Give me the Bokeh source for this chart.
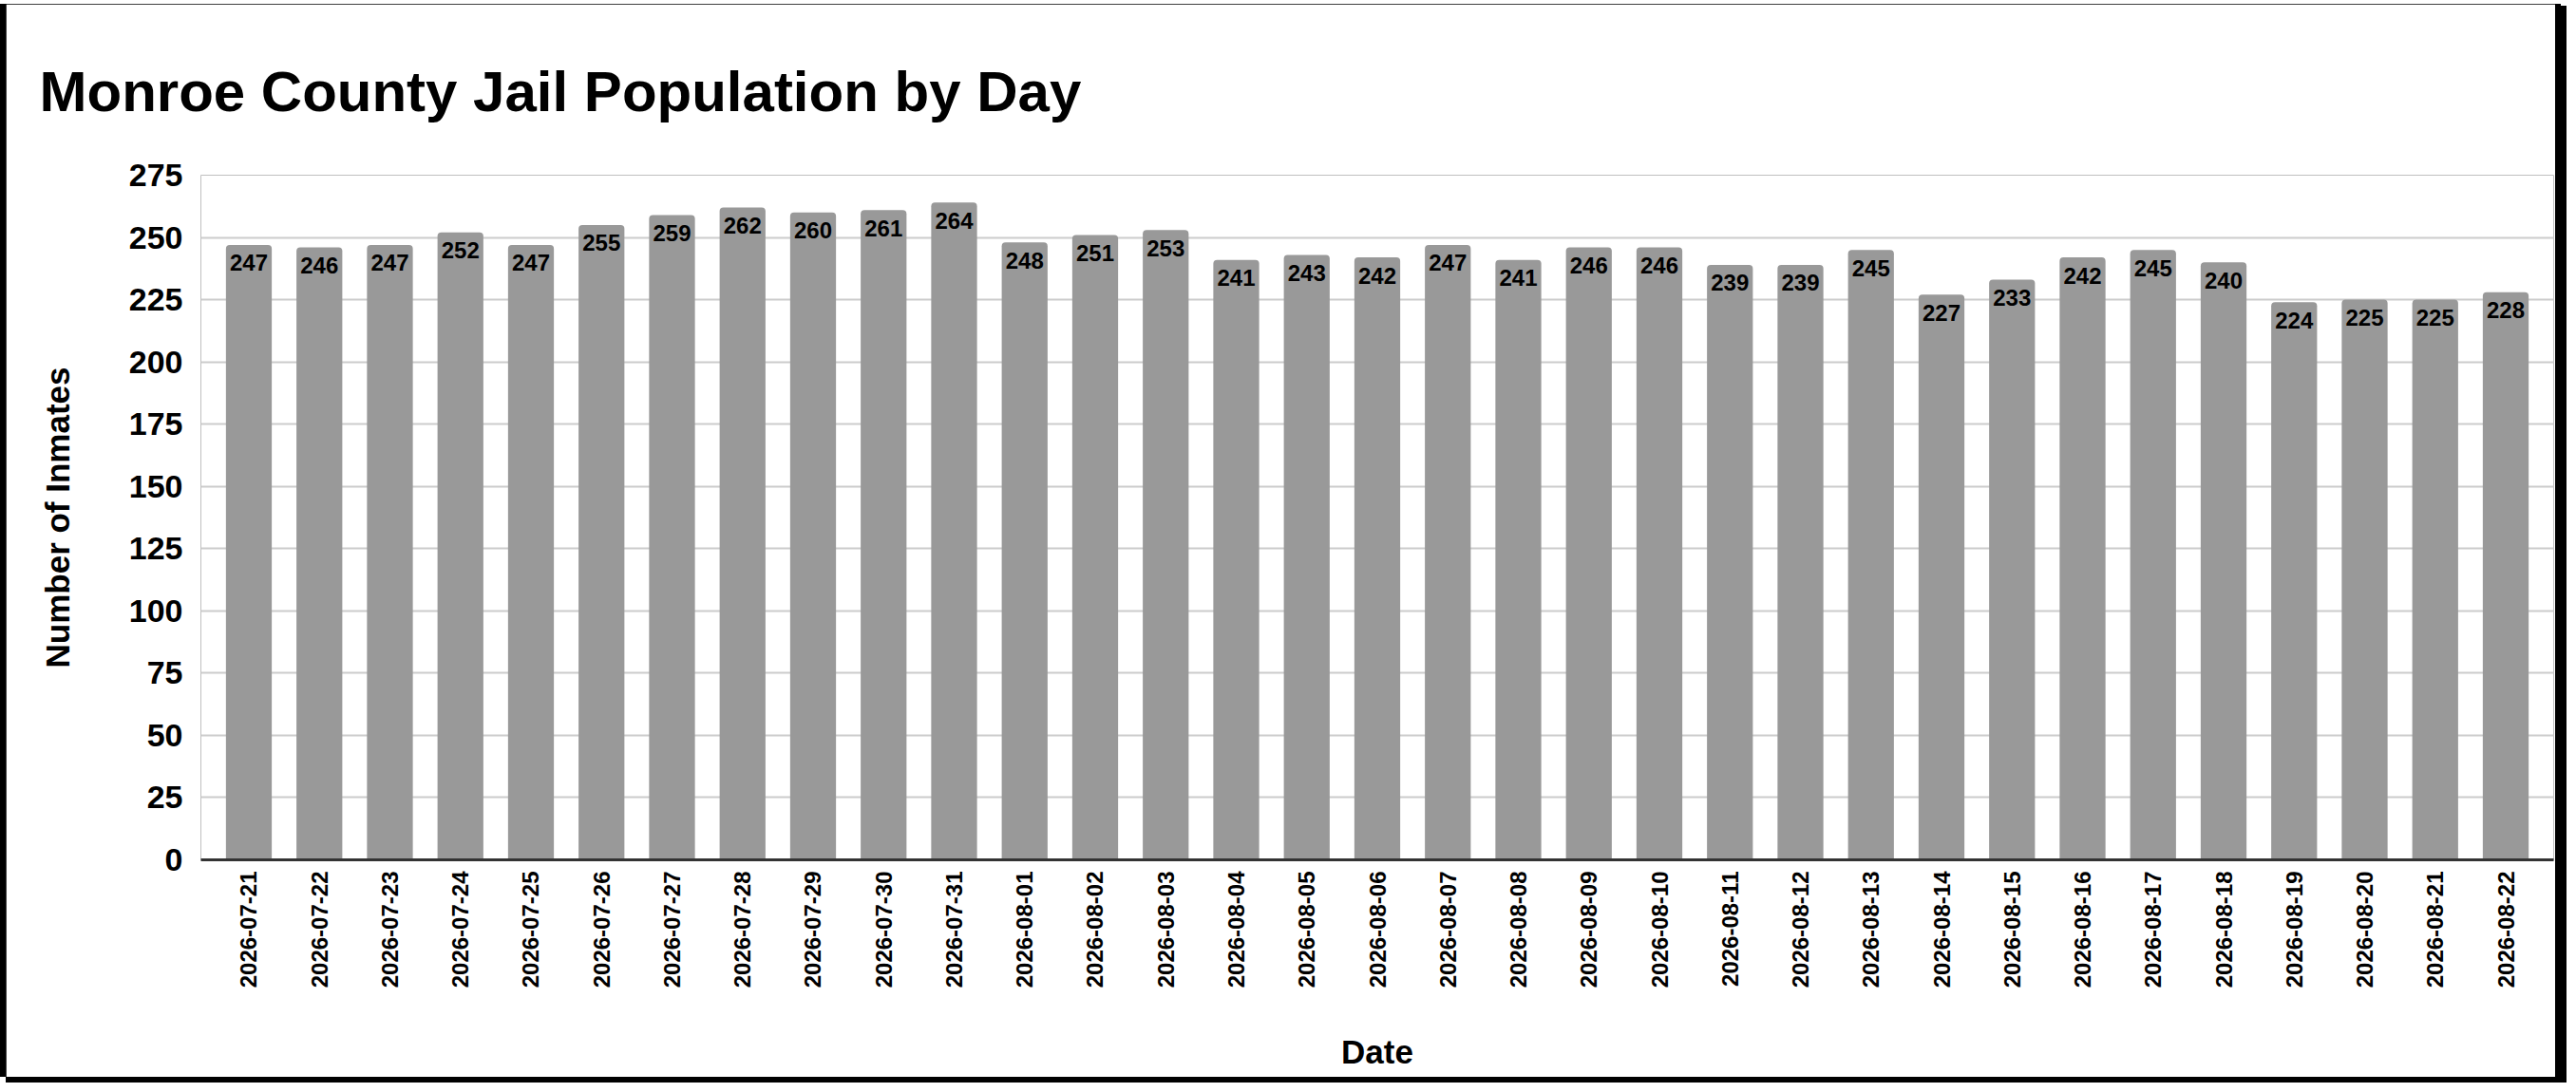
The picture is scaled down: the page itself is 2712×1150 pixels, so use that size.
import math
from bokeh.plotting import figure
from bokeh.models import FactorRange, Range1d, FixedTicker, ColumnDataSource, Spacer
from bokeh.layouts import column, row
from bokeh.core.properties import value
from bokeh.embed import file_html
from bokeh.resources import INLINE

dates = [
    "2026-07-21", "2026-07-22", "2026-07-23", "2026-07-24", "2026-07-25",
    "2026-07-26", "2026-07-27", "2026-07-28", "2026-07-29", "2026-07-30",
    "2026-07-31", "2026-08-01", "2026-08-02", "2026-08-03", "2026-08-04",
    "2026-08-05", "2026-08-06", "2026-08-07", "2026-08-08", "2026-08-09",
    "2026-08-10", "2026-08-11", "2026-08-12", "2026-08-13", "2026-08-14",
    "2026-08-15", "2026-08-16", "2026-08-17", "2026-08-18", "2026-08-19",
    "2026-08-20", "2026-08-21", "2026-08-22",
]
inmates = [
    247, 246, 247, 252, 247, 255, 259, 262, 260, 261, 264,
    248, 251, 253, 241, 243, 242, 247, 241, 246, 246,
    239, 239, 245, 227, 233, 242, 245, 240, 224, 225, 225, 228,
]
y_ticks = [0, 25, 50, 75, 100, 125, 150, 175, 200, 225, 250, 275]

FONT = "Liberation Sans"
B_SIDE = 6                 # black frame, left and right
B_TOP = 4                  # black frame, top
TOTAL_W = 2712 - 16
TOTAL_H = 1150 - 16
W = TOTAL_W - 2 * B_SIDE
H = TOTAL_H - B_TOP

src = ColumnDataSource(dict(date=dates, n=inmates, lbl=[str(v) for v in inmates]))

p = figure(
    width=W, height=H,
    x_range=FactorRange(factors=dates, range_padding=0.18, range_padding_units="absolute"),
    y_range=Range1d(0, 275),
    output_backend="svg", toolbar_location=None,
    title="Monroe County Jail Population by Day",
    min_border_left=205, min_border_right=2, min_border_top=180, min_border_bottom=229,
)
p.background_fill_color = "white"
p.border_fill_color = "white"
p.outline_line_color = None

p.title.text_font = FONT
p.title.text_font_size = "60px"
p.title.text_font_style = "bold"
p.title.text_color = "black"
p.title.align = "left"
p.title.offset = -170
p.title.standoff = 110

p.vbar(x="date", top="n", width=0.65, source=src, fill_color="#999999",
       line_color=None, border_radius=(4, 4, 0, 0))

p.text(x="date", y="n", text="lbl", source=src, text_align="center",
       text_baseline="middle", y_offset=19, text_font=value(FONT),
       text_font_size="24px", text_font_style="bold", text_color="black")

p.xgrid.grid_line_color = None
p.ygrid.grid_line_color = "#cccccc"
p.ygrid.grid_line_width = 2
p.yaxis.ticker = FixedTicker(ticks=y_ticks)

p.yaxis.axis_line_color = None
p.yaxis.major_tick_line_color = None
p.yaxis.minor_tick_line_color = None
p.yaxis.major_tick_out = 0
p.yaxis.major_tick_in = 0
p.yaxis.minor_tick_out = 0
p.yaxis.major_label_text_font = FONT
p.yaxis.major_label_text_font_size = "34px"
p.yaxis.major_label_text_font_style = "bold"
p.yaxis.major_label_text_color = "black"
p.yaxis.major_label_standoff = 19
p.yaxis.axis_label = "Number of Inmates"
p.yaxis.axis_label_text_font = FONT
p.yaxis.axis_label_text_font_size = "35px"
p.yaxis.axis_label_text_font_style = "bold"
p.yaxis.axis_label_text_color = "black"
p.yaxis.axis_label_standoff = 53

p.xaxis.axis_line_color = "#333333"
p.xaxis.axis_line_width = 3
p.xaxis.major_tick_line_color = None
p.xaxis.minor_tick_line_color = None
p.xaxis.major_tick_out = 0
p.xaxis.major_tick_in = 0
p.xaxis.minor_tick_out = 0
p.xaxis.major_label_orientation = math.pi / 2
p.xaxis.major_label_text_font = FONT
p.xaxis.major_label_text_font_size = "24px"
p.xaxis.major_label_text_font_style = "bold"
p.xaxis.major_label_text_color = "black"
p.xaxis.major_label_standoff = 12
p.xaxis.axis_label = "Date"
p.xaxis.axis_label_text_font = FONT
p.xaxis.axis_label_text_font_size = "35px"
p.xaxis.axis_label_text_font_style = "bold"
p.xaxis.axis_label_text_color = "black"
p.xaxis.axis_label_standoff = 45

middle = row(Spacer(width=B_SIDE, height=H), p, Spacer(width=B_SIDE, height=H),
             background="black")
root = column(Spacer(width=TOTAL_W, height=B_TOP), middle,
              background="black", styles={"box-shadow": "6px 6px 0 0 black"})

open("out.html", "w").write(file_html(root, INLINE))
